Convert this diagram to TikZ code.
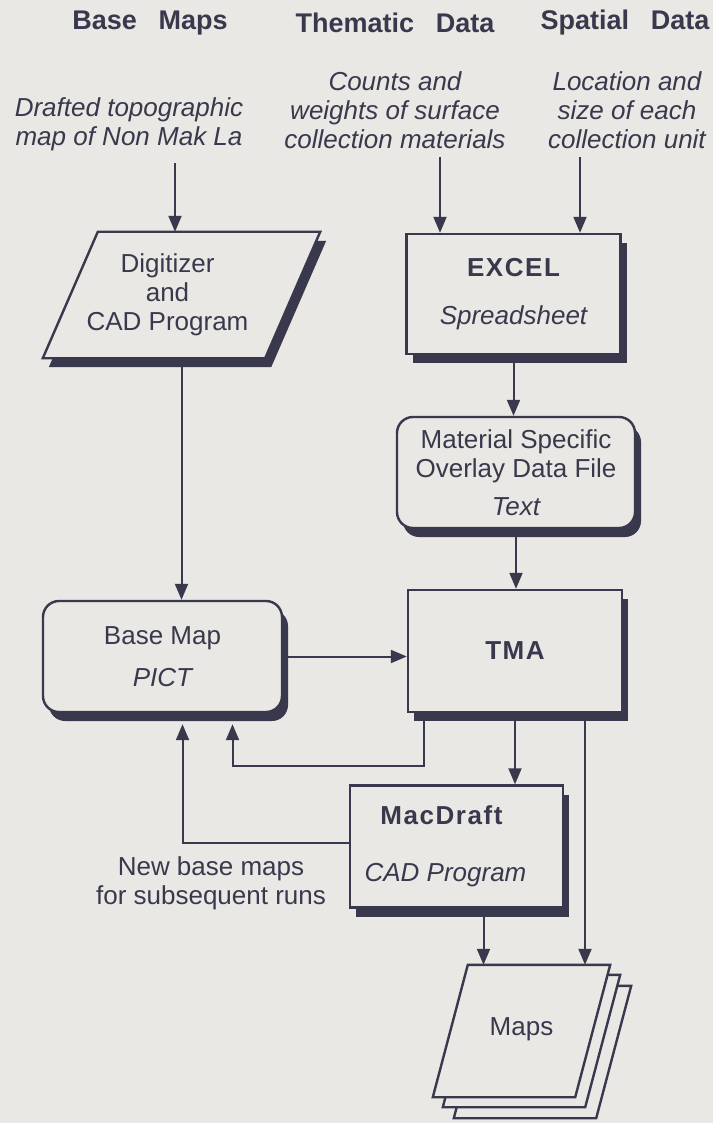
\documentclass[tikz,border=0pt]{standalone}
\usepackage{fontspec}
\setmainfont{Liberation Sans}
\usetikzlibrary{arrows.meta,shadows,calc,backgrounds}

\definecolor{paper}{RGB}{233,232,228}
\definecolor{ink}{RGB}{58,56,76}
\newcommand\boxhead{\bfseries\addfontfeature{LetterSpace=6}}

\begin{document}
\begin{tikzpicture}[x=1pt,y=-1pt,
    >={Triangle[width=13pt,length=16pt]},
    every node/.style={text=ink, align=center, font=\fontsize{26}{29}\selectfont},
    boxline/.style={draw=ink, line width=2.4pt, fill=paper,
        drop shadow={shadow xshift=6pt, shadow yshift=-9pt, fill=ink, opacity=1}},
    pageline/.style={draw=ink, line width=2.4pt, fill=paper}]

% paper
\begin{scope}[on background layer]
    \fill[paper] (0,0) rectangle (713,1123);
\end{scope}
\useasboundingbox (0,0) rectangle (713,1123);

% column heads
\begin{scope}[every node/.append style={font=\fontsize{27}{30}\selectfont\bfseries}]
    \node (hbase) at (150,23) {Base\hspace{0.8em}Maps};
    \node (htheme) at (395,23) {Thematic\hspace{0.8em}Data};
    \node (hspat) at (625,23) {Spatial\hspace{0.8em}Data};
\end{scope}

\begin{scope}[every node/.append style={font=\fontsize{26}{29}\selectfont\itshape}]
    \node (dbase) at (129,124) {Drafted topographic\\map of Non Mak La};
    \node (dtheme) at (395,110) {Counts and\\weights of surface\\collection materials};
    \node (dspat) at (627,110) {Location and\\size of each\\collection unit};
\end{scope}

% boxes
\begin{scope}[every node/.append style={boxline, inner sep=0pt}]
    \node[minimum width=214pt, minimum height=120pt] (excel) at (513.5,294)
        {\boxhead EXCEL\\[19pt]\itshape Spreadsheet};
    \node[rounded corners=16pt, minimum width=238pt, minimum height=111pt] (spec) at (516,472.5)
        {Material Specific\\Overlay Data File\\[9pt]\itshape Text};
    \node[minimum width=214pt, minimum height=122pt] (tma) at (515,651) {\boxhead TMA};
    \node[rounded corners=16pt, minimum width=239pt, minimum height=111pt] (basemap) at (162.5,656.5)
        {Base Map\\[13pt]\itshape PICT};
    \node[minimum width=213pt, minimum height=122pt] (macdraft) at (456.5,846.5)
        {\boxhead MacDraft\hspace*{30pt}\\[28pt]\itshape CAD Program\hspace*{22pt}};
\end{scope}

% slanted boxes: text node first, outline behind it
\node[minimum width=167pt, minimum height=126pt,
    label={[xshift=-14pt]center:{Digitizer\\and\\CAD Program}}] (digit) at (181.5,295) {};
\node[minimum width=107pt, minimum height=132pt] (maps) at (521.5,1031) {\raisebox{8pt}{Maps}};

\begin{scope}[on background layer]
    \draw[boxline] ($(digit.south west)+(-55,0)$) -- (digit.north west)
        -- ($(digit.north east)+(55,0)$) -- (digit.south east) -- cycle;
    \foreach \d in {21,10,0} {
        \draw[pageline] ($(maps.south west)+(\d-35,\d)$) -- ($(maps.north west)+(\d,\d)$)
            -- ($(maps.north east)+(\d+35,\d)$) -- ($(maps.south east)+(\d,\d)$) -- cycle;
    }
\end{scope}

\node (newmaps) at (211,883) {New base maps\\for subsequent runs};

% connectors
\coordinate (cbase) at (175,163);
\coordinate (ctheme) at (440,157);
\coordinate (cspat) at (580,157);
\coordinate (tout) at ($(tma.south)+(70,0)$);
\coordinate (mout) at ($(macdraft.south)+(27,0)$);

\begin{scope}[every edge/.style={draw=ink, line width=2pt}]
    \path [->] (cbase) edge (cbase |- digit.north);
    \path [->] (ctheme) edge (ctheme |- excel.north);
    \path [->] (cspat) edge (cspat |- excel.north);
    \path [->] (digit.south) edge (digit.south |- basemap.north);
    \path [->] (excel.south) edge (excel.south |- spec.north);
    \path [->] (spec.south) edge (spec.south |- tma.north);
    \path [->] (basemap.east) edge (basemap.east -| tma.west);
    \path [->] (tma.south) edge (tma.south |- macdraft.north);
    \path [->] (tout) edge (tout |- maps.north);
    \path [->] (mout) edge (mout |- maps.north);
\end{scope}

\draw[ink, line width=2pt, ->] ($(tma.south west)+(17,0)$) -- ++(0,53) -| ($(basemap.south)+(70,11)$);
\draw[ink, line width=2pt, ->] ($(macdraft.west)+(0,-4)$) -| ($(basemap.south)+(20,11)$);
\end{tikzpicture}
\end{document}
